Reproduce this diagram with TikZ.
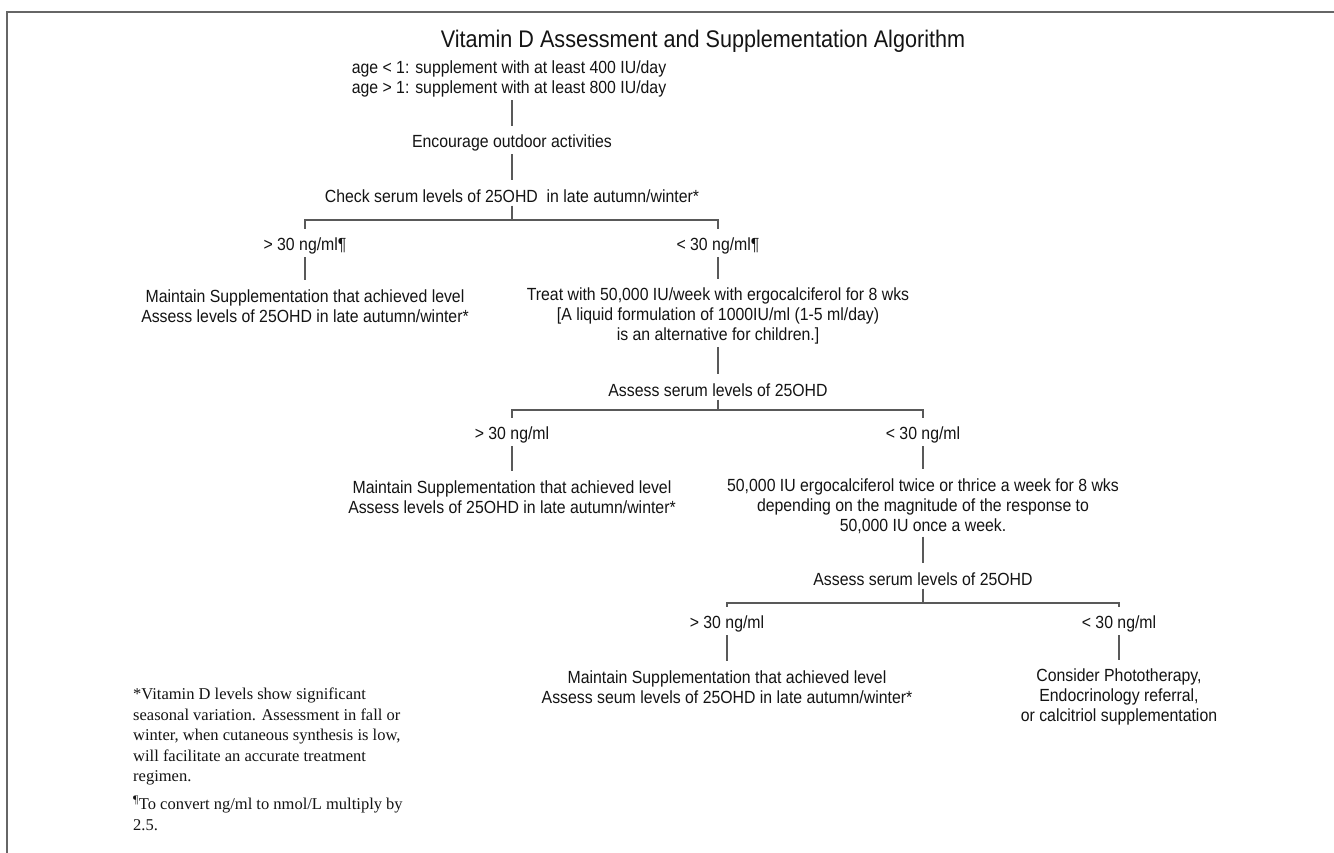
\documentclass[tikz,border=0pt]{standalone}
\usepackage{fontspec}
\setmainfont{Liberation Sans}[FakeStretch=0.9]
\newfontfamily\notefont{Liberation Serif}
\usetikzlibrary{positioning}

\begin{document}
\begin{tikzpicture}[
  x=1pt, y=-1pt,
  font=\fontsize{17.6}{20}\selectfont,
  text=black!92,
  item/.style={align=center, inner sep=3pt},
  heading/.style={item, font=\fontsize{24}{27}\selectfont},
  link/.style={draw=black!65, line width=1.1pt, shorten >=6pt},
  bracket/.style={link, shorten <=6pt},
  stem/.style={draw=black!65, line width=1.1pt},
  note/.style={font=\notefont\fontsize{16.5}{20.5}\selectfont, align=left, inner sep=0pt},
  frame/.style={draw=black!60, line width=2.5pt}
]
\useasboundingbox[fill=white] (0,0) rectangle (1334,853);
\draw[frame] (7,853) -- (7,12) -- (1334,12);

\node[heading] (title) at (703,41) {Vitamin D Assessment and Supplementation Algorithm};

% first stage
\node[item] (age) at (509,79) {age < 1: supplement with at least 400 IU/day\\age > 1: supplement with at least 800 IU/day};
\node[item] (enc) at (512,143) {Encourage outdoor activities};
\node[item] (check) at (512,196) {Check serum levels of 25OHD\ \ in late autumn/winter*};
\coordinate (j1) at (512,220);
\node[item] (hi1) at (305,246) {> 30 ng/ml¶};
\node[item] (lo1) at (718,246) {< 30 ng/ml¶};
\node[item] (keep1) at (305,306) {Maintain Supplementation that achieved level\\Assess levels of 25OHD in late autumn/winter*};
\node[item] (treat) at (718,316) {Treat with 50,000 IU/week with ergocalciferol for 8 wks\\{[A liquid formulation of 1000IU/ml (1-5 ml/day)}\\is an alternative for children.]};

% second stage
\node[item] (assess1) at (718,390) {Assess serum levels of 25OHD};
\coordinate (j2) at (718,410);
\node[item] (hi2) at (512,435) {> 30 ng/ml};
\node[item] (lo2) at (923,435) {< 30 ng/ml};
\node[item] (keep2) at (512,497) {Maintain Supplementation that achieved level\\Assess levels of 25OHD in late autumn/winter*};
\node[item] (more) at (923,506) {50,000 IU ergocalciferol twice or thrice a week for 8 wks\\depending on the magnitude of the response to\\50,000 IU once a week.};

% third stage
\node[item] (assess2) at (923,579) {Assess serum levels of 25OHD};
\coordinate (j3) at (923,603);
\node[item] (hi3) at (727,624) {> 30 ng/ml};
\node[item] (lo3) at (1119,624) {< 30 ng/ml};
\node[item] (keep3) at (727,687) {Maintain Supplementation that achieved level\\Assess seum levels of 25OHD in late autumn/winter*};
\node[item] (photo) at (1119,697) {Consider Phototherapy,\\Endocrinology referral,\\or calcitriol supplementation};

% footnotes
\node[note, anchor=north west] (star) at (133,688) {*Vitamin D levels show significant\\seasonal variation. Assessment in fall or\\winter, when cutaneous synthesis is low,\\will facilitate an accurate treatment\\regimen.};
\node[note, below right=10pt and 0pt of star.south west] (conv) {\textsuperscript{¶}To convert ng/ml to nmol/L multiply by\\2.5.};

\draw[link] (age.south -| enc) -- (enc);
\draw[link] (enc) -- (check);
\draw[stem] (check) -- (j1);
\draw[bracket] (hi1) |- (j1) -| (lo1);
\draw[link] (hi1) -- (keep1);
\draw[link] (lo1) -- (treat);
\draw[link] (treat) -- (assess1);
\draw[stem] (assess1) -- (j2);
\draw[bracket] (hi2) |- (j2) -| (lo2);
\draw[link] (hi2) -- (keep2);
\draw[link] (lo2) -- (more);
\draw[link] (more) -- (assess2);
\draw[stem] (assess2) -- (j3);
\draw[bracket] (hi3) |- (j3) -| (lo3);
\draw[link] (hi3) -- (keep3);
\draw[link] (lo3) -- (photo);

\end{tikzpicture}
\end{document}
